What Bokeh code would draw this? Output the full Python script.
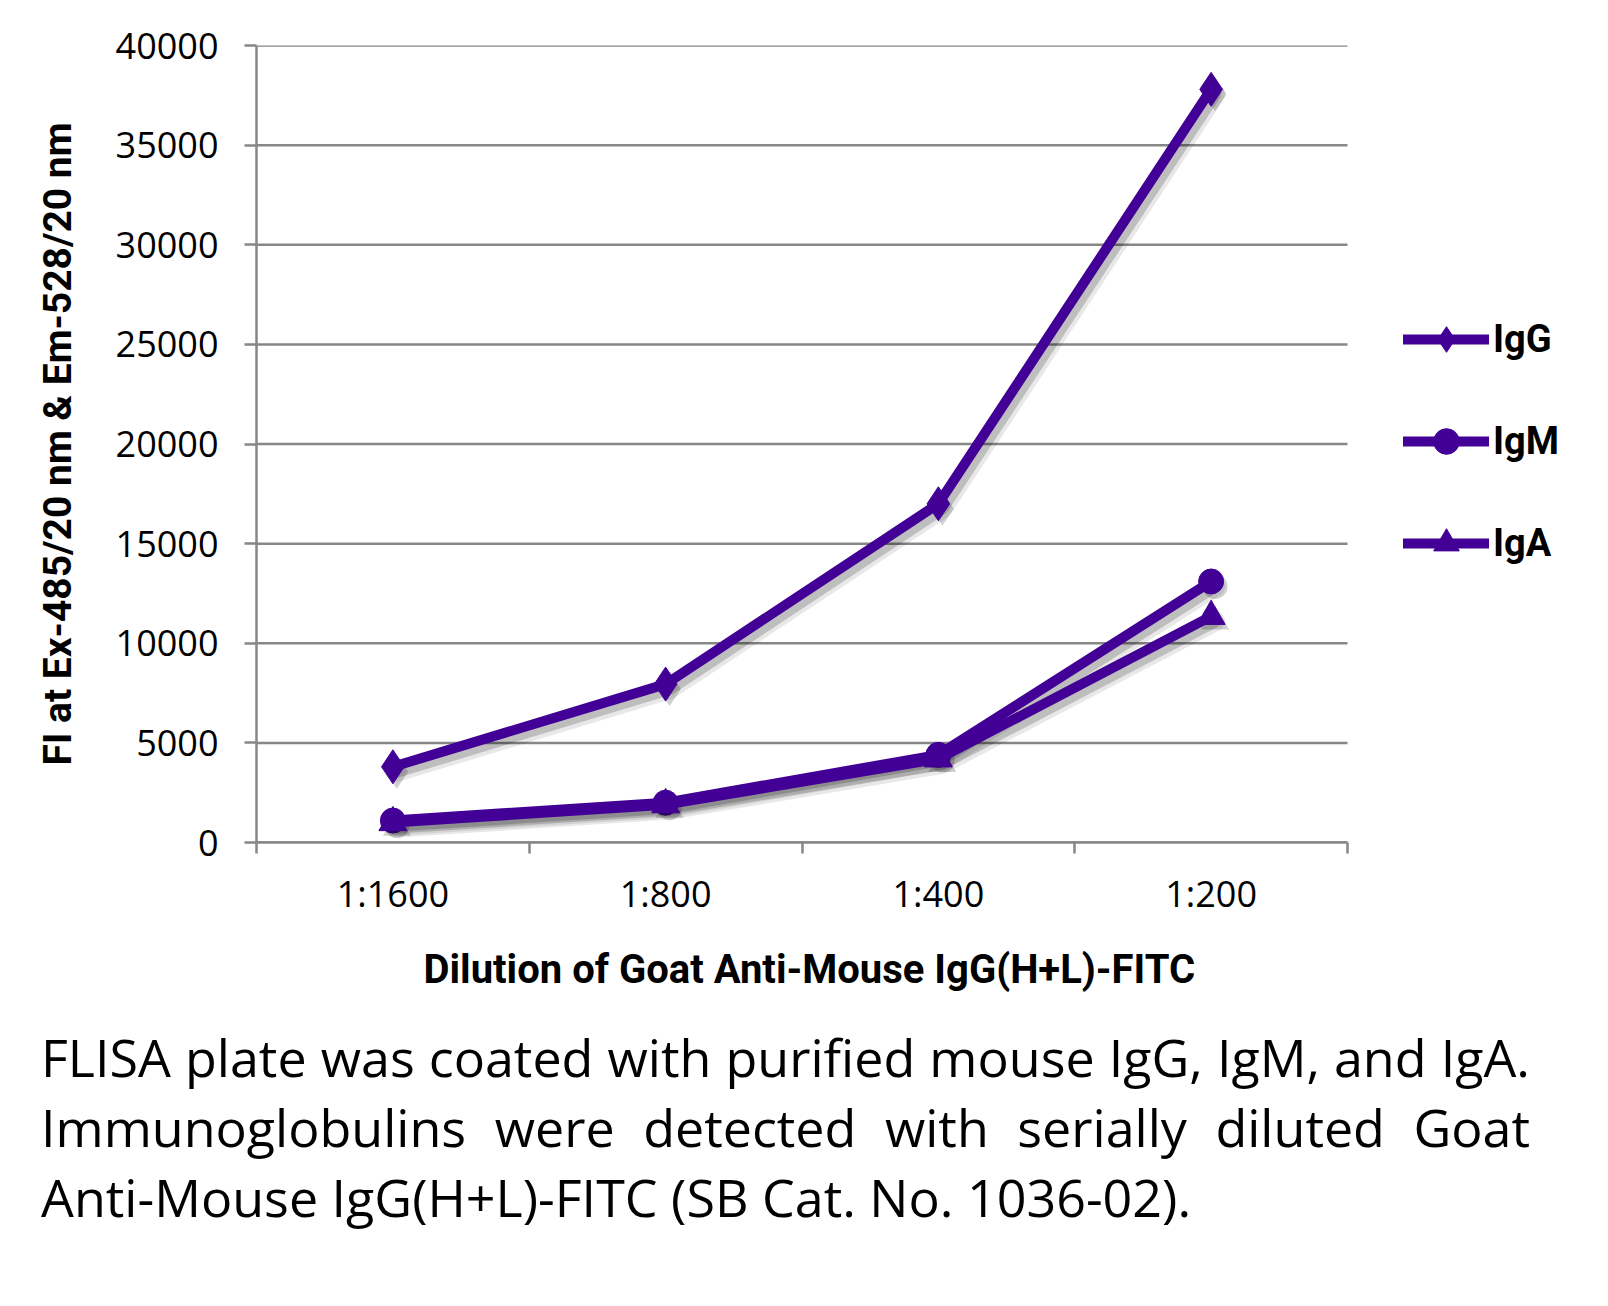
import numpy as np
from bokeh.plotting import figure
from bokeh.models import FixedTicker, Legend, LegendItem, Div, Range1d, Title
from bokeh.layouts import column
from bokeh.embed import file_html
from bokeh.resources import INLINE

# ---- data ----
dilutions = ["1:1600", "1:800", "1:400", "1:200"]
igg = [3800, 7950, 17000, 37800]
igm = [1100, 2000, 4400, 13100]
iga = [1000, 1900, 4200, 11350]
y_ticks = [0, 5000, 10000, 15000, 20000, 25000, 30000, 35000, 40000]
series_names = ["IgG", "IgM", "IgA"]
series_values = [igg, igm, iga]
series_markers = ["diamond", "circle", "triangle"]
series_sizes = [34, 25, 28]

x_title = "Dilution of Goat Anti-Mouse IgG(H+L)-FITC"
y_title = "FI at Ex-485/20 nm & Em-528/20 nm"
caption = [
    "FLISA plate was coated with purified mouse IgG, IgM, and IgA.",
    "Immunoglobulins were detected with serially diluted Goat",
    "Anti-Mouse IgG(H+L)-FITC (SB Cat. No. 1036-02).",
]

PURPLE = "#420096"
GRID = "#878787"

W, H = 1608, 1020
ML, MR, MT, MB = 256, 8, 45, 178
frame_w = W - ML - MR
frame_h = H - MT - MB
PLOT_W = 1091  # pixel width of the category area (legend sits to its right)

ncat = len(dilutions)
centers = [i + 0.5 for i in range(ncat)]
bounds = [float(i) for i in range(ncat + 1)]
x_end = ncat * frame_w / PLOT_W

p = figure(width=W, height=H, x_range=Range1d(0, x_end), y_range=Range1d(0, 40000),
           output_backend="svg", toolbar_location=None,
           min_border_left=ML, min_border_right=MR, min_border_top=MT, min_border_bottom=MB)
p.outline_line_color = None
p.background_fill_color = "white"
p.border_fill_color = "white"

# horizontal gridlines limited to the category area
p.xgrid.grid_line_color = None
p.ygrid.grid_line_color = None
p.segment(x0=[0] * len(y_ticks), x1=[ncat] * len(y_ticks), y0=y_ticks, y1=y_ticks,
          line_color=GRID, line_width=2.5)

# y axis
ya = p.yaxis[0]
ya.ticker = FixedTicker(ticks=y_ticks)
ya.axis_line_color = GRID
ya.axis_line_width = 2.5
ya.major_tick_line_color = GRID
ya.major_tick_line_width = 2.5
ya.major_tick_out = 12
ya.major_tick_in = 0
ya.minor_tick_line_color = None
ya.major_label_text_font = "Open Sans"
ya.major_label_text_font_size = "36px"
ya.major_label_text_color = "black"
ya.major_label_standoff = 26
ya.axis_label = y_title
ya.axis_label_text_font = "Roboto"
ya.axis_label_text_font_style = "bold"
ya.axis_label_text_font_size = "39px"
ya.axis_label_text_color = "black"
ya.axis_label_standoff = 32

# x axis: labels at category centres, ticks at category boundaries
xa = p.xaxis[0]
xa.bounds = (0, ncat)
xa.ticker = FixedTicker(ticks=centers, minor_ticks=bounds)
xa.major_label_overrides = {c: d for c, d in zip(centers, dilutions)}
xa.axis_line_color = GRID
xa.axis_line_width = 2.5
xa.major_tick_line_color = None
xa.major_tick_out = 0
xa.major_tick_in = 0
xa.minor_tick_line_color = GRID
xa.minor_tick_line_width = 2.5
xa.minor_tick_out = 11
xa.minor_tick_in = 0
xa.major_label_text_font = "Open Sans"
xa.major_label_text_font_size = "36px"
xa.major_label_text_color = "black"
xa.major_label_standoff = 15

# x-axis title, placed under the category area rather than the whole frame
xt = Title(text=x_title, align="left", offset=167,
           text_font="Roboto", text_font_style="bold", text_font_size="40px",
           text_color="black", standoff=46)
p.add_layout(xt, "below")

# pixel -> data conversion for the drop shadow offset
dx = 4 * ncat / PLOT_W
dy = -5 * 40000 / frame_h

items = []
for name, vals, mk, sz in zip(series_names, series_values, series_markers, series_sizes):
    xs = np.array(centers)
    ys = np.array(vals, dtype=float)
    # soft shadow
    p.line(xs + dx, ys + dy, line_color="black", line_alpha=0.09, line_width=20,
           line_join="round", line_cap="round")
    p.line(xs + dx, ys + dy, line_color="black", line_alpha=0.18, line_width=12,
           line_join="round", line_cap="round")
    p.scatter(xs + dx, ys + dy, marker=mk, size=sz, fill_color="black", fill_alpha=0.18,
              line_color=None)
    lr = p.line(xs, ys, line_color=PURPLE, line_width=10, line_join="round", line_cap="round")
    sr = p.scatter(xs, ys, marker=mk, size=sz, fill_color=PURPLE, line_color=PURPLE)
    items.append(LegendItem(label=name, renderers=[lr, sr]))

legend = Legend(items=items, location=(1147, 267))
legend.label_text_font = "Roboto"
legend.label_text_font_style = "bold"
legend.label_text_font_size = "38px"
legend.label_text_color = "black"
legend.glyph_width = 86
legend.glyph_height = 64
legend.label_height = 64
legend.spacing = 38
legend.padding = 0
legend.margin = 0
legend.label_standoff = 4
legend.border_line_color = None
legend.background_fill_alpha = 0
p.add_layout(legend, "center")

line_style = "white-space:nowrap;"
cap_html = (
    '<div style="width:1489px">'
    f'<div style="{line_style}text-align:justify;text-align-last:justify">{caption[0]}</div>'
    f'<div style="{line_style}text-align:justify;text-align-last:justify">{caption[1]}</div>'
    f'<div style="{line_style}text-align:left">{caption[2]}</div>'
    '</div>'
)
div = Div(text=cap_html, width=1489, margin=(2, 0, 0, 41),
          styles={"font-family": "Open Sans", "font-size": "52px",
                  "line-height": "70px", "color": "black"})

layout = column(p, div)
open("out.html", "w").write(file_html(layout, INLINE))
